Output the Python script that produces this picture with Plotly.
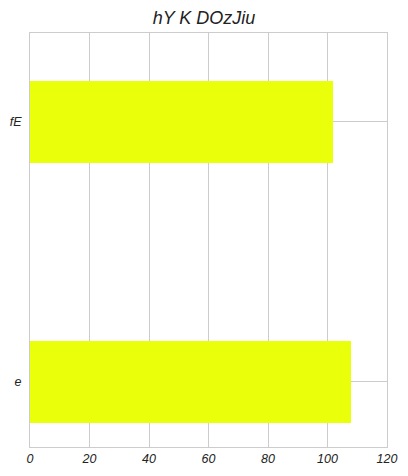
import plotly.graph_objects as go

categories = ["e", "fE"]
values = [108, 102]
x_ticks = [0, 20, 40, 60, 80, 100, 120]

fig = go.Figure(go.Bar(
    x=values, y=categories, orientation="h",
    marker=dict(color="#EAFF0A", line=dict(width=0)),
    width=0.315,
))
font = dict(family="Liberation Sans, Arial, sans-serif", size=12.5, color="#222", style="italic")
fig.update_layout(
    width=408, height=476,
    margin=dict(l=30, r=21, t=33, b=29),
    paper_bgcolor="white", plot_bgcolor="white",
    font=font,
    title=dict(text="hY K DOzJiu", x=0.5, xanchor="center", y=0.963, yanchor="middle",
               font=dict(family="Liberation Sans, Arial, sans-serif", size=18, color="#222", style="italic")),
    showlegend=False,
    bargap=0,
)
fig.update_xaxes(range=[0, 120], tickvals=x_ticks, showgrid=True, gridcolor="#cccccc", gridwidth=1,
                 showline=True, linecolor="#cccccc", mirror=True, zeroline=False, ticks="", ticklen=0,
                 automargin=False)
fig.update_yaxes(type="category", categoryorder="array", categoryarray=categories,
                 range=[-0.25, 1.34], showgrid=True, gridcolor="#cccccc", gridwidth=1,
                 showline=True, linecolor="#cccccc", mirror=True, zeroline=False, ticks="",
                 ticklabelstandoff=5, automargin=False)
fig.write_html("out.html")
